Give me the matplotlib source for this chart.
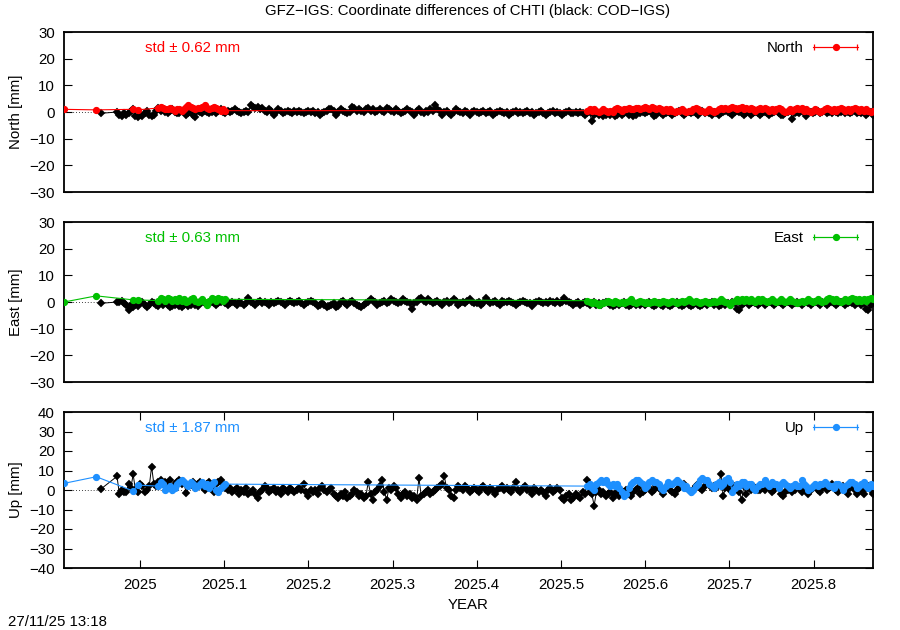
import numpy as np
import matplotlib
matplotlib.use('Agg')
import matplotlib.pyplot as plt
from matplotlib.container import ErrorbarContainer
from matplotlib.legend_handler import HandlerErrorbar

plt.rcParams['font.family'] = ['Liberation Sans', 'DejaVu Sans']
plt.rcParams['font.size'] = 10.8

# days relative to 2025-01-01
cod_days = [-17] + list(range(-10, 319))
gfz_days = [-33, -19, -3, -1] + list(range(8, 38)) + list(range(194, 319))

# COD-IGS (black)
cod_north = [
    -0.5, 0.0, -1.0, -1.5, -0.5, -1.0, -0.5, 0.5, 1.0, -1.5,
    -2.0, -1.0, -1.5, -0.5, 0.5, -1.0, -1.5, -1.0, 0.5, 1.5,
    0.5, 1.0, 0.0, -0.5, 0.5, 1.0, 0.0, -0.5, -0.5, 0.5,
    0.0, -1.0, -0.5, 0.0, -1.0, -2.0, 0.5, 0.0, -0.5, 0.5,
    0.0, -0.5, 0.0, 0.5, -0.5, 0.5, 1.0, 0.0, -0.5, 0.5,
    0.0, 0.5, 1.0, 0.5, 0.0, -0.5, 0.0, 0.5, 0.0, 2.5,
    2.0, 1.5, 2.0, 1.0, 1.5, 0.5, 0.0, 1.0, 0.5, -1.0,
    0.0, 1.0, 0.5, -0.5, 0.0, 0.5, 0.0, -0.5, 0.5, 0.0,
    0.5, 0.0, -0.5, 0.0, 0.5, 0.0, 0.5, -0.5, 0.0, -1.0,
    -0.5, 0.0, 0.5, 1.0, 1.0, 0.5, -1.0, 0.0, 1.0, 0.5,
    0.0, -0.5, 0.0, 2.0, 1.5, 0.5, 1.0, 0.5, 0.0, 1.0,
    1.5, 0.5, 1.0, 0.0, 0.5, 1.0, 0.5, 0.0, 1.5, 1.0,
    0.5, 0.0, 1.0, 0.5, -0.5, 0.0, 0.5, 1.0, 0.5, 0.0,
    -1.0, 0.5, 1.0, 0.0, -0.5, 0.5, 0.0, 1.0, 0.5, 2.5,
    1.0, 0.5, -1.0, 0.0, 0.5, -0.5, -1.0, 0.0, 1.0, 0.5,
    0.0, -0.5, 0.5, 0.0, -1.0, 0.0, 0.5, 0.0, -0.5, 0.0,
    0.5, -0.5, 0.0, 0.5, -1.0, -0.5, 0.0, 0.5, 0.0, -0.5,
    0.0, -1.0, -0.5, 0.0, 0.5, -0.5, 0.0, -0.5, 0.0, 0.5,
    -0.5, 0.0, -1.0, -0.5, 0.0, 0.5, -0.5, -1.0, -0.5, 0.0,
    0.5, -0.5, 0.0, -0.5, -1.0, -0.5, 0.0, 0.5, -0.5, -0.5,
    0.0, -0.5, 0.0, -0.5, -1.0, -0.5, 0.0, -3.5, -1.0, -0.5,
    -1.0, -0.5, -1.5, -1.0, -0.5, -1.0, 0.0, -1.5, -1.0, -0.5,
    -1.0, -0.5, 0.0, -1.0, -0.5, -1.5, -1.0, 0.0, -0.5, 0.0,
    -0.5, 0.0, 0.5, -0.5, -1.5, -1.0, 0.0, -0.5, -1.0, -0.5,
    0.0, -0.5, -1.0, -0.5, 0.0, 0.5, -0.5, -1.0, -0.5, 0.0,
    -0.5, 0.0, -0.5, -1.0, 0.0, 0.5, -0.5, 0.0, -0.5, -1.0,
    0.0, -0.5, -1.0, -0.5, 0.0, 0.5, 0.0, -0.5, -1.0, 0.0,
    0.5, 0.0, -0.5, -1.0, -0.5, 0.0, -1.0, -0.5, 0.0, -0.5,
    -1.0, -0.5, 0.0, -0.5, -1.0, -0.5, 0.0, 0.5, -0.5, -1.0,
    -1.0, -0.5, 0.0, 0.5, -2.5, -0.5, 0.0, -0.5, 0.5, 0.0,
    -1.5, 0.5, 0.0, -0.5, 0.0, 0.5, -0.5, 0.0, 0.5, -0.5,
    0.0, -0.5, 0.5, 0.0, -0.5, 0.0, 0.5, -0.5, 0.0, -0.5,
    0.0, 0.5, -0.5, 0.0, -0.5, 0.0, -1.0, -0.5, 0.0, -1.0,
]
cod_east = [
    -0.5, 0.0, 0.0, 0.5, -0.5, -1.0, -3.0, -1.0, -2.0, -1.0,
    -1.5, -0.5, 0.0, -1.0, -2.0, -1.0, 0.0, -0.5, -1.0, -1.5,
    -0.5, -1.0, -0.5, -1.0, -2.0, -1.5, -1.0, -0.5, -1.5, -2.0,
    -1.0, -0.5, -1.5, -1.0, -0.5, -1.0, -1.5, -0.5, 0.0, -0.5,
    -1.0, -0.5, 0.0, -0.5, -1.0, -0.5, 0.0, 0.5, -0.5, -1.0,
    -0.5, 0.0, -0.5, -1.0, 0.0, -0.5, -1.0, -0.5, 1.5, 0.0,
    -0.5, -1.0, 0.0, 0.5, -0.5, 0.0, -0.5, -1.0, 0.0, -0.5,
    0.0, 0.5, 0.0, -0.5, -1.0, 0.0, 0.5, 0.0, -0.5, 0.0,
    0.5, -0.5, -1.0, -0.5, 0.0, 0.5, 0.0, -0.5, -1.5, -1.0,
    -0.5, -1.0, -2.0, -1.5, -1.0, -0.5, -2.0, -1.5, 0.0, 0.5,
    -0.5, -1.0, 0.0, 0.5, -0.5, -1.0, -1.5, -2.0, -1.0, -0.5,
    0.0, 1.0, 0.5, 0.0, -1.0, -0.5, 0.0, 0.5, -0.5, 0.0,
    1.0, 0.5, 0.0, -0.5, 0.0, 1.0, 0.5, 0.0, -0.5, -2.5,
    -0.5, 0.0, 1.0, 1.5, 0.5, 0.0, 1.0, 0.5, -0.5, 0.0,
    0.5, -0.5, -1.0, 0.0, 0.5, -0.5, 0.0, 1.0, 0.5, -1.0,
    -0.5, 0.0, -0.5, 0.5, 1.0, 0.0, -0.5, -0.5, 0.0, -1.0,
    -0.5, 1.5, 0.5, -0.5, 0.0, 0.5, -0.5, -1.0, 0.5, 0.0,
    0.0, 0.5, 0.0, -0.5, -1.0, -0.5, 0.0, 0.5, 0.0, -0.5,
    -0.5, -1.5, -0.5, 0.0, 0.5, 0.0, -0.5, 0.0, -0.5, 0.5,
    0.0, -0.5, 0.5, -0.5, 0.0, 1.5, 0.5, 0.0, -0.5, -1.0,
    -0.5, 0.0, -1.0, -0.5, 0.0, -0.5, -1.0, -0.5, 0.0, -1.0,
    -0.5, -1.0, -0.5, 0.0, -0.5, -1.0, -1.5, -1.0, -0.5, -1.0,
    -0.5, 0.0, -1.0, -1.5, -1.0, -0.5, -1.0, -0.5, -1.0, -0.5,
    -1.0, -0.5, 0.0, -1.0, -1.5, -1.0, -0.5, -1.0, -1.5, -0.5,
    -1.0, -1.5, -1.0, -0.5, 0.0, -1.0, -1.5, -1.0, -0.5, -1.0,
    -1.5, -1.0, -0.5, -1.0, -1.5, -1.0, -0.5, -1.0, -0.5, 0.0,
    -1.0, -0.5, -1.5, -1.0, -0.5, -1.0, -0.5, -1.0, 0.0, -0.5,
    -2.5, -3.0, -1.0, -0.5, 0.0, -1.0, -0.5, 0.0, -0.5, -1.0,
    -0.5, 0.0, -1.0, -0.5, 0.0, -0.5, -1.0, -0.5, 0.0, -0.5,
    -1.0, -0.5, 0.0, -0.5, -1.0, -0.5, 0.0, -0.5, -1.0, -0.5,
    0.0, -0.5, -1.0, -0.5, 0.0, -0.5, -1.0, 0.0, -0.5, -1.0,
    -0.5, 0.0, -0.5, -1.0, -0.5, 0.0, -0.5, -1.0, -0.5, 0.0,
    -0.5, -1.0, -0.5, 0.0, -1.0, -0.5, -2.5, -3.0, -1.0, 0.0,
]
cod_up = [
    0.5, 7.0, -2.0, 0.0, -1.0, -1.0, 3.0, 1.0, 8.0, 0.0,
    -1.0, 3.0, 2.0, -1.0, 0.0, 2.0, 12.0, 3.0, 2.0, 4.0,
    5.0, 3.0, 4.0, 2.0, 5.0, 0.0, 3.0, 4.0, 5.0, 3.0,
    4.0, -1.5, 2.0, 3.0, 4.0, 1.0, 3.0, 4.0, 2.0, 0.0,
    3.0, 4.0, 2.0, -1.0, 3.0, 4.0, 5.0, 3.0, 1.0, 0.0,
    1.0, -1.0, 0.0, 1.0, -2.0, 0.0, -1.0, 1.0, -2.0, -1.0,
    0.0, -2.0, -4.0, -1.0, 0.0, 2.0, 1.0, -1.0, 0.0, 1.0,
    -1.0, 0.0, -2.0, 1.0, 0.0, -1.0, 1.0, 0.0, -1.0, 0.0,
    1.0, 0.0, 3.0, -1.0, -3.0, 0.0, -1.0, 0.0, -2.0, 1.0,
    2.0, 0.0, -1.0, 0.0, 1.0, -2.0, -3.0, -4.0, -2.0, -3.0,
    -1.0, -4.0, -3.0, -2.0, 0.0, -1.0, -3.0, -2.0, -4.0, -3.0,
    4.0, -2.0, -5.0, -1.0, 0.0, 2.0, 5.0, -1.0, -5.0, 1.0,
    0.0, 2.0, 1.0, -2.0, -4.0, -2.0, -1.0, -3.0, -2.0, -4.0,
    -3.0, -5.0, 6.0, -3.0, -2.0, -1.0, 0.0, -2.0, -1.0, 0.0,
    1.0, 2.0, 3.0, 7.0, 1.0, 0.0, -3.0, -4.0, 0.0, 2.0,
    1.0, 0.0, 2.0, 1.0, -1.0, 0.0, 1.0, 0.0, -1.0, 1.0,
    2.0, 0.0, -1.0, 1.0, 0.0, -2.0, 0.0, 1.0, 2.0, 0.0,
    1.0, 0.0, -1.0, 1.0, 4.0, 0.0, -1.0, 1.0, 2.0, 0.0,
    0.0, -2.0, 1.0, 0.0, -1.0, 0.0, -1.0, -3.0, 0.0, 1.0,
    -1.0, 0.0, 1.0, 0.0, -4.0, -5.0, -3.0, -2.0, -5.0, -4.0,
    -2.0, -3.0, -4.0, -1.0, -2.0, 5.0, -1.0, -2.0, -8.0, -1.0,
    0.0, -2.0, -1.0, -3.0, -2.0, -1.0, -4.0, -2.0, -1.0, -3.0,
    -2.0, -1.0, 0.0, -2.0, -3.0, -1.0, 0.0, 1.0, -2.0, -1.0,
    0.0, 2.0, 1.0, -1.0, 0.0, 2.0, 1.0, 0.0, -2.0, 1.0,
    2.0, 0.0, -1.0, -2.0, 0.0, 1.0, 2.0, 3.0, 1.0, 0.0,
    -1.0, 0.0, 2.0, 3.0, 1.0, 0.0, 2.0, 4.0, 3.0, 1.0,
    2.0, 1.0, 3.0, 8.0, -3.0, 1.0, 2.0, 0.0, 1.0, 2.0,
    1.0, -1.0, -5.0, 2.0, -2.0, 1.0, 0.0, 2.0, 1.0, 0.0,
    0.0, 1.0, 0.0, 2.0, 1.0, -1.0, 0.0, 2.0, 1.0, -2.0,
    -3.0, -1.0, 0.0, 1.0, -1.0, 0.0, 2.0, 1.0, -1.0, 0.0,
    1.0, -2.0, 0.0, 1.0, 2.0, 0.0, -1.0, 1.0, 2.0, 0.0,
    1.0, 3.0, 2.0, 0.0, -1.0, 1.0, 2.0, 0.0, -2.0, 1.0,
    2.0, 0.0, -2.0, 1.0, 0.0, -2.0, 1.0, 2.0, 0.0, -2.0,
]

# GFZ-IGS (coloured)
gfz_north = [
    1.0, 0.8, 1.0, 0.8,
    1.5, 2.0, 1.5, 1.0, 1.0, 1.5, 1.0, 0.5, 1.0, 1.0,
    0.5, 1.0, 2.0, 2.5, 2.0, 1.5, 1.0, 1.5, 1.5, 2.0,
    2.5, 1.5, 1.0, 1.5, 2.0, 1.5, 1.0, 0.5, 1.0, 0.5,
    0.5, 1.0, 0.5, 1.0, 0.5, 0.0, 0.5, 1.0, 0.5, 0.0,
    0.5, 0.0, 1.0, 1.5, 1.0, 0.5, 1.0, 1.0, 1.5, 1.0,
    1.0, 1.5, 1.5, 1.0, 1.5, 2.0, 1.5, 1.0, 2.0, 1.5,
    1.0, 1.5, 1.0, 0.5, 1.0, 0.5, 1.0, 0.5, 0.0, 0.5,
    0.5, 1.0, 0.5, 0.0, 0.5, 0.5, 1.0, 1.5, 1.0, 0.5,
    0.5, 0.0, 0.5, 1.0, 0.5, 0.0, 0.5, 1.0, 1.5, 1.0,
    1.5, 1.0, 1.5, 2.0, 1.5, 1.0, 1.5, 2.0, 1.0, 1.5,
    1.0, 1.5, 1.0, 0.5, 1.0, 1.5, 1.0, 1.5, 1.0, 0.5,
    1.0, 0.5, 1.0, 1.5, 1.0, 0.5, 0.0, 0.5, 1.0, 0.5,
    1.0, 1.5, 1.0, 1.5, 0.5, 1.0, 0.5, 0.0, 0.5, 1.0,
    0.5, 0.0, 0.5, 1.0, 1.5, 1.0, 0.5, 1.0, 0.5, 1.0,
    1.5, 1.0, 0.5, 1.0, 0.5, 1.0, 1.5, 1.0, 0.5, 1.0,
    0.5, 1.0, 0.5, 0.0, 0.5,
]
gfz_east = [
    0.0, 2.3, 0.8, 0.8,
    0.5, 1.5, 1.0, 0.5, 1.5, 1.0, 0.5, 1.0, 0.5, 1.5,
    0.5, 1.0, 0.0, 0.5, 1.0, 1.5, 0.5, 0.0, 0.5, 1.0,
    0.0, -1.0, 0.5, 1.5, 1.0, 0.5, 1.5, 1.0, 0.5, 1.0,
    0.5, 0.0, -0.5, 0.0, -0.5, -1.0, -0.5, -0.5, 0.0, 0.5,
    0.0, -0.5, 0.5, 0.0, -0.5, 0.0, -0.5, 0.0, 0.5, 1.0,
    0.0, -0.5, 0.0, 0.5, 0.0, -0.5, 0.0, -0.5, 0.0, 0.5,
    0.0, -0.5, 0.0, 0.5, 0.0, -0.5, 0.0, 0.5, 0.0, -0.5,
    0.0, 0.5, 0.0, 0.5, 1.0, 0.5, 0.0, 0.5, 0.0, -0.5,
    0.0, 0.5, 0.0, -0.5, 0.0, 0.5, 0.0, 0.5, 1.0, 0.5,
    0.0, -0.5, -1.0, 0.0, 0.5, 1.0, 0.5, 1.0, 0.5, 1.0,
    0.5, 1.0, 0.5, 0.0, 1.0, 0.5, 1.0, 0.5, 0.0, 0.5,
    1.0, 0.5, 0.0, 0.5, 1.0, 0.5, 0.0, 0.5, 1.0, 0.5,
    0.0, -0.5, 0.0, 0.5, 0.0, 0.5, 1.0, 0.5, 0.0, 0.5,
    1.0, 0.5, 0.0, 0.5, 1.0, 1.5, 1.0, 0.5, 1.0, 0.5,
    0.0, 0.5, 1.0, 0.5, 1.0, 1.5, 1.0, 0.5, 1.0, 0.5,
    1.0, 0.5, 1.0, 1.5, 1.0,
]
gfz_up = [
    3.4, 6.8, -0.5, 2.5,
    2.0, 4.0, 3.0, 0.0, 1.0, 2.0, 0.0, 1.0, 3.0, 4.0,
    5.0, 4.0, 3.0, 2.0, 4.0, 3.0, 1.0, 2.0, 3.0, 4.0,
    2.0, 3.0, 1.0, 3.0, 4.0, 0.0, -1.0, 1.0, 2.0, 3.0,
    2.0, 3.0, 1.0, 0.0, 3.0, 4.0, 5.0, 4.0, 5.0, 3.0,
    2.0, 3.0, 2.0, 3.0, 1.0, -1.0, -3.0, -2.0, 1.0, 3.0,
    4.0, 5.0, 5.0, 4.0, 3.0, 1.0, 2.0, 4.0, 5.0, 4.0,
    4.0, 3.0, 1.0, 0.0, 2.0, 4.0, 3.0, 3.0, 4.0, 5.0,
    4.0, 3.0, 1.0, 2.0, 0.0, -1.0, 0.0, 2.0, 3.0, 5.0,
    6.0, 5.0, 5.0, 3.0, 2.0, 1.0, 3.0, 4.0, 2.0, 3.0,
    5.0, 6.0, 4.0, -1.0, 1.0, 3.0, 2.0, 4.0, 4.0, 2.0,
    3.0, 3.0, 1.0, 0.0, 2.0, 3.0, 3.0, 5.0, 3.0, 2.0,
    4.0, 3.0, 3.0, 1.0, 3.0, 4.0, 3.0, 2.0, 1.0, 2.0,
    3.0, 2.0, 2.0, 5.0, 3.0, 2.0, 0.0, 1.0, 2.0, 3.0,
    2.0, 3.0, 3.0, 4.0, 3.0, 2.0, 2.0, 1.0, 3.0, 3.0,
    2.0, 0.0, 2.0, 3.0, 4.0, 4.0, 3.0, 1.0, 2.0, 3.0,
    4.0, 2.0, 1.0, 3.0, 2.0,
]

components = ['North', 'East', 'Up']
ylabels = ['North [mm]', 'East [mm]', 'Up [mm]']
std_vals = [0.62, 0.63, 1.87]
colors = ['#ff0000', '#00c000', '#1e90ff']
ylims = [(-30, 30), (-30, 30), (-40, 40)]
xticks = [2025.0, 2025.1, 2025.2, 2025.3, 2025.4, 2025.5, 2025.6, 2025.7, 2025.8]
xtick_labels = ['2025', '2025.1', '2025.2', '2025.3', '2025.4', '2025.5', '2025.6', '2025.7', '2025.8']

x_cod = 2025 + np.array(cod_days) / 365.25
x_gfz = 2025 + np.array(gfz_days) / 365.25
cod_vals = [cod_north, cod_east, cod_up]
gfz_vals = [gfz_north, gfz_east, gfz_up]

W, H = 900, 630
fig = plt.figure(figsize=(9, 6.3), dpi=100)
# panel boxes in pixels: top, bottom
boxes = [(32, 192), (222, 382), (412, 568)]
x0, x1 = 64, 873

for i, comp in enumerate(components):
    top, bot = boxes[i]
    ax = fig.add_axes([x0 / W, 1 - bot / H, (x1 - x0) / W, (bot - top) / H])
    ax.axhline(0, color='k', lw=0.6, ls=(0, (1, 2.5)), zorder=1)
    ax.plot(x_cod, cod_vals[i], color='k', lw=0.7, marker='D', ms=4.2,
            mec='k', mew=0.3, zorder=2)
    # no mew here: errorbar would pass it on to the caps
    ax.errorbar(x_gfz, gfz_vals[i], xerr=np.zeros(len(x_gfz)), color=colors[i],
                lw=0.8, marker='o', ms=4.2, capsize=2.0, capthick=0.9,
                elinewidth=0.8, label=comp, zorder=3)
    ax.set_xlim(min(x_gfz.min(), x_cod.min()), max(x_gfz.max(), x_cod.max()))
    ax.set_ylim(*ylims[i])
    ax.set_yticks(np.arange(ylims[i][0], ylims[i][1] + 1, 10))
    ax.tick_params(axis='y', direction='in', length=5.5, width=0.8, right=True, pad=6.5)
    if i == 2:
        ax.set_xticks(xticks)
        ax.set_xticklabels(xtick_labels)
        ax.tick_params(axis='x', direction='in', length=5.5, width=0.8, top=True, pad=7)
    else:
        ax.set_xticks([])
    for sp in ax.spines.values():
        sp.set_linewidth(1.3)
    ty = 1 - 16 / (bot - top)
    ax.text(0.1, ty, 'std \u00b1 %.2f mm' % std_vals[i], transform=ax.transAxes,
            color=colors[i], ha='left', va='center')
    ax.legend(loc='center right', bbox_to_anchor=((858 - x0) / (x1 - x0), ty),
              frameon=False, markerfirst=False, handlelength=3.0,
              borderaxespad=0, borderpad=0, handletextpad=0.6,
              handler_map={ErrorbarContainer: HandlerErrorbar(xerr_size=1.45)})
    fig.text(16 / W, 1 - (top + bot) / 2 / H, ylabels[i], rotation=90,
             ha='center', va='center')

fig.text(468 / W, 1 - 11 / H, 'GFZ\u2212IGS: Coordinate differences of CHTI (black: COD\u2212IGS)',
         ha='center', va='center')
fig.text(468 / W, 1 - 605 / H, 'YEAR', ha='center', va='center')
fig.text(8 / W, 1 - 622 / H, '27/11/25 13:18', ha='left', va='center')

fig.savefig('out.png', dpi=100)
